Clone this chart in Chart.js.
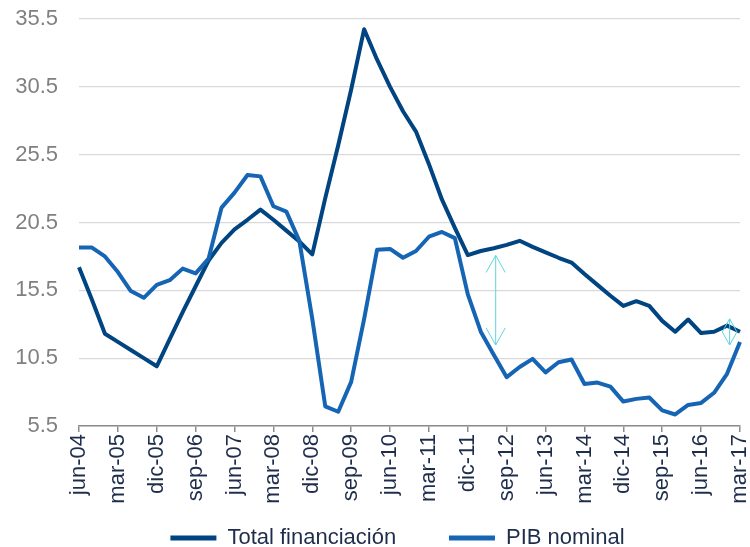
<!DOCTYPE html>
<html>
<head>
<meta charset="utf-8">
<script src="https://cdn.jsdelivr.net/npm/chart.js@4.4.1/dist/chart.umd.min.js"></script>
<style>
  html, body { margin: 0; padding: 0; background: #fff; }
  #wrap { width: 750px; height: 547px; }
</style>
</head>
<body>
<div id="wrap"><canvas id="chart"></canvas></div>
<script>
// quarterly, jun-04 .. mar-17
const quarters = [
  'jun-04', 'sep-04', 'dic-04',
  'mar-05', 'jun-05', 'sep-05', 'dic-05',
  'mar-06', 'jun-06', 'sep-06', 'dic-06',
  'mar-07', 'jun-07', 'sep-07', 'dic-07',
  'mar-08', 'jun-08', 'sep-08', 'dic-08',
  'mar-09', 'jun-09', 'sep-09', 'dic-09',
  'mar-10', 'jun-10', 'sep-10', 'dic-10',
  'mar-11', 'jun-11', 'sep-11', 'dic-11',
  'mar-12', 'jun-12', 'sep-12', 'dic-12',
  'mar-13', 'jun-13', 'sep-13', 'dic-13',
  'mar-14', 'jun-14', 'sep-14', 'dic-14',
  'mar-15', 'jun-15', 'sep-15', 'dic-15',
  'mar-16', 'jun-16', 'sep-16', 'dic-16',
  'mar-17'
];

const totalFinanciacion = [
  17.2, 14.8, 12.3,
  11.7, 11.1, 10.5, 9.9,
  11.9, 13.9, 15.8, 17.7,
  19.0, 20.0, 20.7, 21.45,
  20.7, 19.9, 19.1, 18.15,
  22.3, 26.2, 30.3, 34.75,
  32.5, 30.5, 28.7, 27.2,
  24.8, 22.2, 20.1, 18.1,
  18.4, 18.6, 18.85, 19.15,
  18.7, 18.3, 17.9, 17.55,
  16.7, 15.9, 15.1, 14.35,
  14.7, 14.35, 13.25, 12.45,
  13.35, 12.35, 12.45, 12.9,
  12.45
];

const pibNominal = [
  18.65, 18.65, 18.0,
  16.85, 15.45, 14.95, 15.9,
  16.25, 17.1, 16.75, 17.85,
  21.6, 22.7, 24.0, 23.9,
  21.7, 21.3, 19.15, 13.4,
  6.95, 6.55, 8.75, 13.4,
  18.5, 18.55, 17.9, 18.4,
  19.45, 19.8, 19.35, 15.2,
  12.45, 10.75, 9.1, 9.85,
  10.45, 9.45, 10.2, 10.4,
  8.6, 8.7, 8.4, 7.3,
  7.5, 7.6, 6.65, 6.35,
  7.05, 7.2, 7.95, 9.35,
  11.7
];

const yMin = 5.5;
const yMax = 35.5;
const yStep = 5;

// cyan double arrows marking the gap between the two series
const gapAt = [32.15, 50.2];     // category position
const gapFrom = [18.07, 13.4];   // top value
const gapTo = [11.47, 11.47];    // bottom value

const FONT = "'Liberation Sans', Arial, sans-serif";
const DARK = '#004481';
const BLUE = '#1565b4';

const gapArrows = {
  id: 'gapArrows',
  afterDatasetsDraw(chart) {
    const { ctx, scales: { x, y } } = chart;
    ctx.save();
    ctx.strokeStyle = '#5fd4d8';
    ctx.lineWidth = 1;
    gapAt.forEach((pos, i) => {
      const px = x.getPixelForValue(pos);
      const top = y.getPixelForValue(gapFrom[i]);
      const bot = y.getPixelForValue(gapTo[i]);
      const head = Math.min(17, (bot - top) / 2);
      const half = head * 0.56;
      ctx.beginPath();
      ctx.moveTo(px, top);
      ctx.lineTo(px, bot);
      ctx.moveTo(px - half, top + head);
      ctx.lineTo(px, top);
      ctx.lineTo(px + half, top + head);
      ctx.moveTo(px - half, bot - head);
      ctx.lineTo(px, bot);
      ctx.lineTo(px + half, bot - head);
      ctx.stroke();
    });
    ctx.restore();
  }
};

// legend sits a bit right of centre in the original
const legendOffset = {
  id: 'legendOffset',
  afterLayout(chart) {
    chart.legend.left += 15;
    chart.legend.right += 15;
  }
};

new Chart(document.getElementById('chart'), {
  type: 'line',
  data: {
    labels: quarters,
    datasets: [{
      label: 'Total financiación',
      data: totalFinanciacion,
      borderColor: DARK,
      backgroundColor: DARK,
      borderWidth: 4,
      pointRadius: 0,
      tension: 0,
      borderJoinStyle: 'round',
      order: 2
    }, {
      label: 'PIB nominal',
      data: pibNominal,
      borderColor: BLUE,
      backgroundColor: BLUE,
      borderWidth: 4,
      pointRadius: 0,
      tension: 0,
      borderJoinStyle: 'round',
      order: 1
    }]
  },
  options: {
    responsive: true,
    maintainAspectRatio: false,
    animation: false,
    layout: { padding: { top: 6, left: 15, right: 0, bottom: -12 } },
    plugins: {
      tooltip: { enabled: false },
      legend: {
        position: 'bottom',
        labels: {
          font: { family: FONT, size: 22 },
          color: '#1f2d4d',
          boxWidth: 46,
          boxHeight: 5,
          padding: 10,
          generateLabels(chart) {
            const items = Chart.defaults.plugins.legend.labels.generateLabels(chart)
              .sort((a, b) => a.datasetIndex - b.datasetIndex);
            items.forEach(it => { it.lineWidth = 0; });
            items[0].text += '\u00a0'.repeat(7);
            return items;
          }
        }
      }
    },
    scales: {
      x: {
        grid: {
          drawOnChartArea: false,
          drawTicks: true,
          tickLength: 6,
          lineWidth: 1.5,
          color: c => c.index % 3 === 0 ? '#8c8c8c' : 'rgba(0,0,0,0)'
        },
        border: { display: true, color: '#8c8c8c', width: 1.5 },
        ticks: {
          autoSkip: false,
          minRotation: 90,
          maxRotation: 90,
          padding: 2,
          color: '#1f2d4d',
          font: { family: FONT, size: 22 },
          callback: (v, i) => i % 3 === 0 ? quarters[i] : ''
        },
        afterFit(scale) {
          scale.height = 91;
          scale.paddingRight = 10;
        }
      },
      y: {
        min: yMin,
        max: yMax,
        grid: { color: '#d9d9d9', lineWidth: 1.3, drawTicks: false },
        border: { display: false },
        ticks: {
          stepSize: yStep,
          padding: 21,
          color: '#808080',
          font: { family: FONT, size: 22 },
          callback: v => v.toFixed(1)
        },
        afterFit(scale) {
          scale.width = 64;
          scale.paddingTop = 19;
          scale.paddingBottom = 0;
        }
      }
    }
  },
  plugins: [gapArrows, legendOffset]
});
</script>
</body>
</html>
